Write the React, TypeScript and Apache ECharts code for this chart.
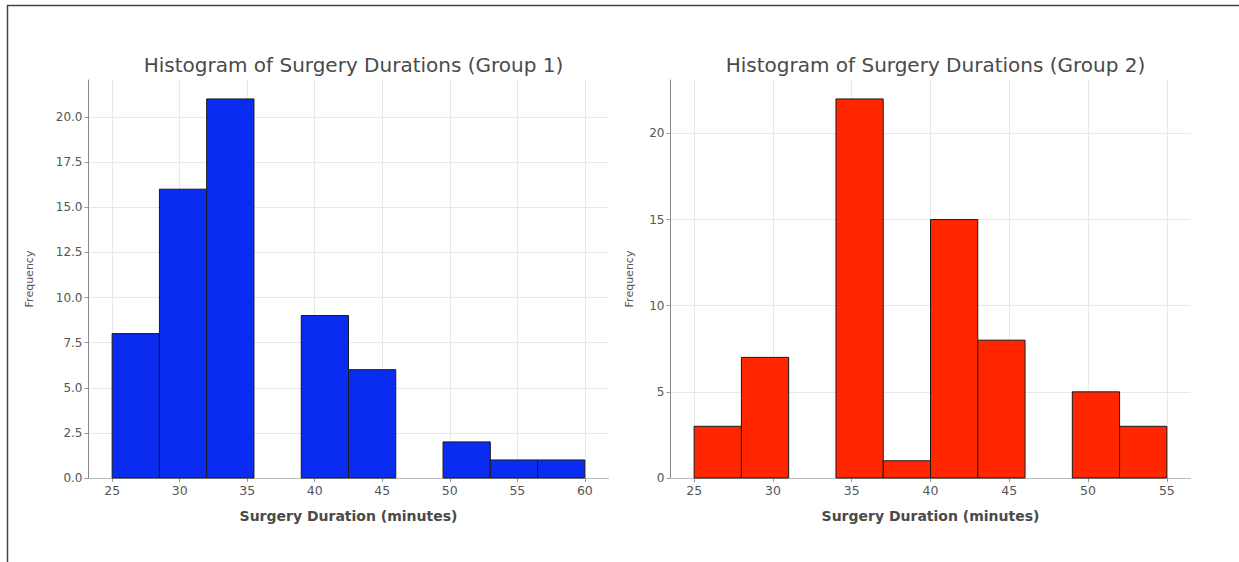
import React, { useEffect, useRef } from 'react';
import * as echarts from 'echarts';

const binEdges1 = [25, 28.5, 32, 35.5, 39, 42.5, 46, 49.5, 53, 56.5, 60];
const counts1 = [8, 16, 21, 0, 9, 6, 0, 2, 1, 1];
const binEdges2 = [25, 28, 31, 34, 37, 40, 43, 46, 49, 52, 55];
const counts2 = [3, 7, 0, 22, 1, 15, 8, 0, 5, 3];
const xTicks1 = [25, 30, 35, 40, 45, 50, 55, 60];
const xTicks2 = [25, 30, 35, 40, 45, 50, 55];
const yTicks1 = [0, 2.5, 5, 7.5, 10, 12.5, 15, 17.5, 20];
const yTicks2 = [0, 5, 10, 15, 20];
const titles = ['Histogram of Surgery Durations (Group 1)', 'Histogram of Surgery Durations (Group 2)'];
const xName = 'Surgery Duration (minutes)';
const yName = 'Frequency';
const colors = ['#0a2cf0', '#ff2600'];

const FONT = 'DejaVu Sans';

function buildData(edges: number[], counts: number[]) {
  return counts.map((c, i) => [edges[i], edges[i + 1], c]);
}

export default function App() {
  const ref = useRef<HTMLDivElement>(null);
  useEffect(() => {
    if (!ref.current) return;
    const chart = echarts.init(ref.current, undefined, { renderer: 'svg' });
    const edgesList = [binEdges1, binEdges2];
    const countsList = [counts1, counts2];
    const xTicksList = [xTicks1, xTicks2];
    const yTicksList = [yTicks1, yTicks2];
    const gridLefts = [88.5, 670.5];
    const nameGaps = [54, 36];

    const grids = gridLefts.map((l) => ({ left: l, top: 80, width: 520, height: 398 }));
    const xAxes = edgesList.map((edges, i) => {
      const lo = edges[0];
      const hi = edges[edges.length - 1];
      const pad = (hi - lo) * 0.05;
      return {
        type: 'value',
        gridIndex: i,
        min: lo - pad,
        max: hi + pad,
        name: xName,
        nameLocation: 'middle',
        nameGap: 31,
        nameTextStyle: { fontFamily: FONT, fontSize: 14, fontWeight: 'bold', color: '#4a4a4a' },
        axisLine: { show: true, onZero: false, lineStyle: { color: '#bbbbbb', width: 1 } },
        axisTick: { show: true, length: 4, customValues: xTicksList[i], lineStyle: { color: '#999' } },
        axisLabel: { customValues: xTicksList[i], fontFamily: FONT, fontSize: 12.5, color: '#555', margin: 6 },
        splitLine: { show: true, lineStyle: { color: '#e8e8e8', width: 1 } },
      };
    });
    const yAxes = countsList.map((counts, i) => ({
      type: 'value',
      gridIndex: i,
      min: 0,
      max: Math.max(...counts) * 1.05,
      name: yName,
      nameLocation: 'middle',
      nameGap: nameGaps[i],
      nameTextStyle: { fontFamily: FONT, fontSize: 11, color: '#555' },
      axisLine: { show: true, lineStyle: { color: '#888888', width: 1 } },
      axisTick: { show: true, length: 4, customValues: yTicksList[i], lineStyle: { color: '#999' } },
      axisLabel: {
        customValues: yTicksList[i],
        fontFamily: FONT,
        fontSize: 12,
        color: '#555',
        margin: 6,
        formatter: (v: number) => (i === 0 ? v.toFixed(1) : String(v)),
      },
      splitLine: { show: true, lineStyle: { color: '#e8e8e8', width: 1 } },
    }));

    const series = edgesList.map((edges, i) => ({
      type: 'custom',
      xAxisIndex: i,
      yAxisIndex: i,
      encode: { x: [0, 1], y: 2 },
      data: buildData(edges, countsList[i]),
      renderItem: (params: any, api: any) => {
        const x0 = api.value(0);
        const x1 = api.value(1);
        const v = api.value(2);
        if (!v) return null;
        const p0 = api.coord([x0, v]);
        const p1 = api.coord([x1, 0]);
        return {
          type: 'rect',
          shape: { x: p0[0], y: p0[1], width: p1[0] - p0[0], height: p1[1] - p0[1] },
          style: { fill: colors[i], stroke: '#1a1a1a', lineWidth: 1 },
        };
      },
    }));

    chart.setOption({
      animation: false,
      backgroundColor: '#ffffff',
      title: titles.map((t, i) => ({
        text: t,
        left: gridLefts[i] + 260,
        top: 50,
        textAlign: 'center',
        textStyle: { fontFamily: FONT, fontSize: 20, fontWeight: 'normal', color: '#4a4a4a' },
      })),
      grid: grids,
      xAxis: xAxes,
      yAxis: yAxes,
      series,
      graphic: [
        { type: 'line', shape: { x1: 7, y1: 5.5, x2: 1239, y2: 5.5 }, style: { stroke: '#444', lineWidth: 1.5 } },
        { type: 'line', shape: { x1: 7.5, y1: 5, x2: 7.5, y2: 562 }, style: { stroke: '#444', lineWidth: 1.5 } },
      ],
    });
    return () => chart.dispose();
  }, []);
  return <div ref={ref} style={{ position: 'fixed', left: 0, top: 0, width: 1239, height: 562 }} />;
}
